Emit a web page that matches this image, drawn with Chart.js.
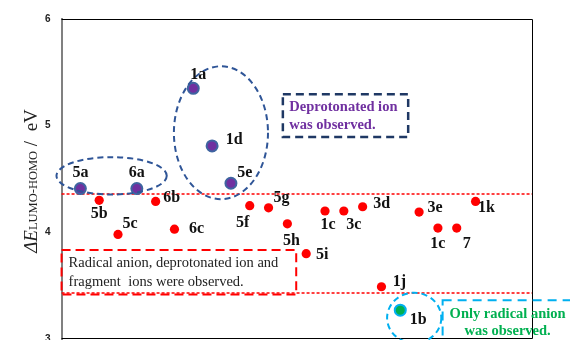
<!DOCTYPE html>
<html>
<head>
<meta charset="utf-8">
<script src="https://cdn.jsdelivr.net/npm/chart.js@4.4.1/dist/chart.umd.min.js"></script>
<style>
html, body { margin: 0; padding: 0; background: #fff; overflow: hidden; }
#wrap { position: relative; width: 570px; height: 356px; }
</style>
</head>
<body>
<div id="wrap"><canvas id="chart"></canvas></div>
<script>
//-----------------------------------------------------------------------------
// Data
const compounds = ['5a','5b','5c','6a','6b','6c','1a','1d','5e','5f','5g','5h','5i','1c','3c','3d','1j','1b','3e','1c','7','1k'];
const gapValues = [4.41,4.30,3.98,4.41,4.29,4.03,5.35,4.81,4.46,4.25,4.23,4.08,3.80,4.20,4.20,4.24,3.49,3.27,4.19,4.04,4.04,4.29];
const deprotonated = ['5a','6a','1a','1d','5e'];
const radicalOnly = ['1b'];
const thresholds = [4.36, 3.43];
const yTicks = [3, 4, 5, 6];

// label offsets (px) relative to each point
const labelOffsets = [
  [0,-16],[0,14],[12,-11],[0,-16],[16,-4],[22,0],[5,-13],[22,-6],[14,-10],[-7,17],[13,-10],
  [4,17],[16,1],[3,14],[10,14],[19,-3],[18,-5],[18,10],[16,-4],[0,16],[10,16],[11,6]
];

// helper groupings (data coords)
const groups = [
  { cx: 2.66, cy: 4.53, rx: 2.93, ry: 0.175, color: '#2f5597' },
  { cx: 8.47, cy: 4.934, rx: 2.5, ry: 0.623, color: '#2f5597' },
  { cx: 18.74, cy: 3.198, rx: 1.44, ry: 0.236, color: '#00b0f0' }
];

const notes = [
  { x0: 11.76, x1: 18.42, y0: 5.294, y1: 4.894, color: '#1f3864', width: 2.5, dash: [8,5],
    lines: ['Deprotonated ion', 'was observed.'], textColor: '#7030a0',
    font: 'bold 14.5px "Liberation Serif"', align: 'left', dx: 6.5, dy: [13, 31] },
  { x0: 0, x1: 12.47, y0: 3.835, y1: 3.417, color: '#ff0000', width: 2, dash: [9,5],
    lines: ['Radical anion, deprotonated ion and', 'fragment  ions were observed.'], textColor: '#222',
    font: '14.5px "Liberation Serif"', align: 'left', dx: 7, dy: [13.5, 32] },
  { x0: 20.25, x1: 28.7, y0: 3.363, y1: 2.79, color: '#00b0f0', width: 2, dash: [9,6],
    lines: ['Only radical anion', 'was observed.'], textColor: '#00b050',
    font: 'bold 14.5px "Liberation Serif"', align: 'center', dx: 65, dy: [14, 31] }
];

const xs = compounds.map((c, i) => i + 1);
const pick = names => compounds.map((c, i) => names.includes(c) ? {x: xs[i], y: gapValues[i]} : null).filter(p => p);

//-----------------------------------------------------------------------------
// Plugins
const decorations = {
  id: 'decorations',
  beforeDatasetsDraw(chart) {
    const {ctx, chartArea: a, scales: {y}} = chart;
    ctx.save();
    // frame
    ctx.strokeStyle = '#000';
    ctx.lineWidth = 1;
    ctx.beginPath();
    ctx.moveTo(a.left, a.top + 0.5);
    ctx.lineTo(a.right + 0.5, a.top + 0.5);
    ctx.lineTo(a.right + 0.5, a.bottom - 0.5);
    ctx.lineTo(a.left, a.bottom - 0.5);
    ctx.stroke();
    // threshold lines
    ctx.strokeStyle = '#ff0000';
    ctx.lineWidth = 1.5;
    ctx.setLineDash([3, 2]);
    thresholds.forEach(function(v) {
      const py = Math.round(y.getPixelForValue(v));
      ctx.beginPath();
      ctx.moveTo(a.left, py);
      ctx.lineTo(a.right, py);
      ctx.stroke();
    });
    ctx.restore();
  },
  afterDatasetsDraw(chart) {
    const {ctx, scales: {x, y}} = chart;
    ctx.save();
    // ellipses
    groups.forEach(function(g) {
      const cx = x.getPixelForValue(g.cx), cy = y.getPixelForValue(g.cy);
      const rx = x.getPixelForValue(g.cx + g.rx) - cx;
      const ry = cy - y.getPixelForValue(g.cy + g.ry);
      ctx.beginPath();
      ctx.setLineDash([6, 4]);
      ctx.lineWidth = 2;
      ctx.strokeStyle = g.color;
      ctx.ellipse(cx, cy, rx, ry, 0, 0, 2 * Math.PI);
      ctx.stroke();
    });
    // note boxes
    notes.forEach(function(n) {
      const l = x.getPixelForValue(n.x0), r = x.getPixelForValue(n.x1);
      const t = y.getPixelForValue(n.y0), b = y.getPixelForValue(n.y1);
      ctx.setLineDash(n.dash);
      ctx.lineWidth = n.width;
      ctx.strokeStyle = n.color;
      ctx.strokeRect(l, t, r - l, b - t);
      ctx.setLineDash([]);
      ctx.fillStyle = n.textColor;
      ctx.font = n.font;
      ctx.textAlign = n.align;
      ctx.textBaseline = 'middle';
      n.lines.forEach(function(s, i) {
        ctx.fillText(s, l + n.dx, t + n.dy[i]);
      });
    });
    // point labels
    const meta = chart.getDatasetMeta(0);
    ctx.fillStyle = '#111';
    ctx.font = 'bold 16px "Liberation Serif"';
    ctx.textAlign = 'center';
    ctx.textBaseline = 'middle';
    meta.data.forEach(function(pt, i) {
      ctx.fillText(compounds[i], pt.x + labelOffsets[i][0], pt.y + labelOffsets[i][1]);
    });
    ctx.restore();
  },
  afterDraw(chart) {
    // y axis title with subscript
    const {ctx, chartArea: a} = chart;
    ctx.save();
    ctx.translate(37, (a.top + a.bottom) / 2 + 2);
    ctx.rotate(-Math.PI / 2);
    ctx.fillStyle = '#222';
    ctx.textBaseline = 'alphabetic';
    ctx.textAlign = 'left';
    const parts = [
      ['\u0394E', 'italic 19px "Liberation Serif"', 0],
      ['LUMO-HOMO', '12.5px "Liberation Serif"', 0],
      [' /  eV', '19px "Liberation Serif"', 0]
    ];
    let total = 0;
    parts.forEach(function(p) { ctx.font = p[1]; total += ctx.measureText(p[0]).width; });
    let cx = -total / 2;
    parts.forEach(function(p) {
      ctx.font = p[1];
      ctx.fillText(p[0], cx, p[2]);
      cx += ctx.measureText(p[0]).width;
    });
    ctx.restore();
  }
};

//-----------------------------------------------------------------------------
// Chart
new Chart(document.getElementById('chart'), {
  type: 'scatter',
  data: {
    datasets: [
      {
        data: xs.map((v, i) => ({x: v, y: gapValues[i]})),
        backgroundColor: '#ff0000',
        borderWidth: 0,
        pointRadius: 4.6,
        order: 3
      },
      {
        data: pick(deprotonated),
        backgroundColor: '#7030a0',
        borderColor: '#3f64a0',
        borderWidth: 2,
        pointRadius: 5.5,
        order: 1
      },
      {
        data: pick(radicalOnly),
        backgroundColor: '#00b050',
        borderColor: '#00b0f0',
        borderWidth: 2,
        pointRadius: 5.5,
        order: 1
      }
    ]
  },
  options: {
    responsive: true,
    maintainAspectRatio: false,
    animation: false,
    layout: { padding: { top: 19, left: 34, right: 38, bottom: 6 } },
    plugins: { legend: { display: false }, tooltip: { enabled: false } },
    scales: {
      x: { type: 'linear', min: 0, max: 25, display: false },
      y: {
        min: 3, max: 6,
        afterBuildTicks: function(axis) { axis.ticks = yTicks.map(v => ({value: v})); },
        grid: { display: false, drawTicks: false },
        border: { display: true, color: '#808080', width: 2 },
        ticks: { padding: 11, color: '#222', font: { family: 'Arial', size: 10, weight: 'bold' } }
      }
    }
  },
  plugins: [decorations]
});
</script>
</body>
</html>
